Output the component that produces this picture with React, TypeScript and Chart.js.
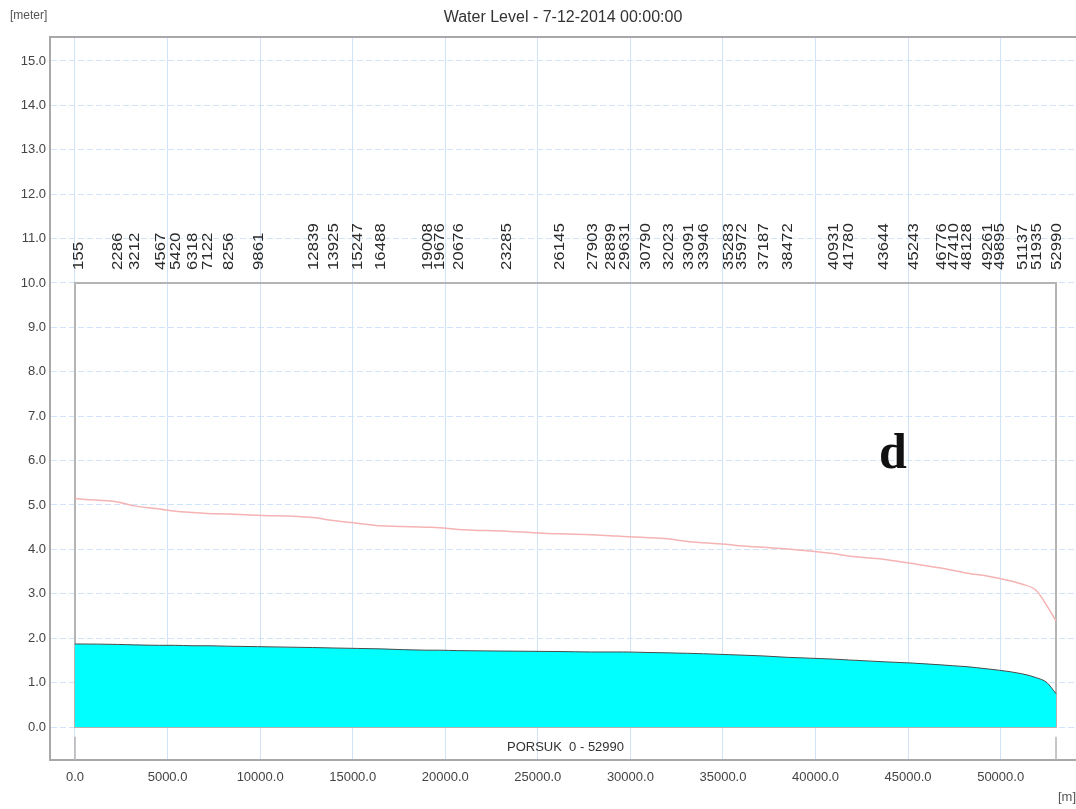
import React, { useEffect, useRef } from "react";
import { Chart, registerables } from "chart.js";

Chart.register(...registerables);

// Profile chainages (m) along PORSUK 0 - 52990
const chainage = [
  0, 155, 2286, 3212, 4567, 5420, 6318, 7122, 8256, 9861, 12839, 13925, 15247, 16488,
  19008, 19676, 20676, 23285, 26145, 27903, 28899, 29631, 30790, 32023, 33091, 33946,
  35283, 35972, 37187, 38472, 40931, 41780, 43644, 45243, 46776, 47410, 48128, 49261,
  49895, 51137, 51935, 52500, 52990,
];

// Cyan filled profile (m)
const depthLevel = [
  1.87, 1.87, 1.86, 1.85, 1.84, 1.84, 1.83, 1.83, 1.82, 1.81, 1.79, 1.78, 1.77, 1.76,
  1.73, 1.73, 1.72, 1.71, 1.70, 1.69, 1.69, 1.69, 1.68, 1.67, 1.66, 1.65,
  1.63, 1.62, 1.60, 1.57, 1.53, 1.51, 1.47, 1.44, 1.40, 1.38, 1.36, 1.31,
  1.28, 1.20, 1.11, 1.00, 0.75,
];

// Pink water level line (m)
const waterLevel = [
  5.15, 5.14, 5.07, 4.98, 4.91, 4.86, 4.83, 4.81, 4.80, 4.77, 4.72, 4.65, 4.59, 4.53,
  4.50, 4.49, 4.45, 4.41, 4.35, 4.33, 4.31, 4.29, 4.27, 4.24, 4.18, 4.15,
  4.11, 4.08, 4.05, 4.01, 3.91, 3.85, 3.78, 3.68, 3.58, 3.53, 3.47, 3.40,
  3.35, 3.22, 3.07, 2.73, 2.39,
];

// Station labels drawn vertically above the box
const stationLabels = [
  155, 2286, 3212, 4567, 5420, 6318, 7122, 8256, 9861, 12839, 13925, 15247, 16488,
  19008, 19676, 20676, 23285, 26145, 27903, 28899, 29631, 30790, 32023, 33091, 33946,
  35283, 35972, 37187, 38472, 40931, 41780, 43644, 45243, 46776, 47410, 48128, 49261,
  49895, 51137, 51935, 52990,
];

const xTicks = [0, 5000, 10000, 15000, 20000, 25000, 30000, 35000, 40000, 45000, 50000];
const yTicks = [0, 1, 2, 3, 4, 5, 6, 7, 8, 9, 10, 11, 12, 13, 14, 15];

const branchStart = 0;
const branchEnd = 52990;
const boxTop = 10;

const chartTitle = "Water Level - 7-12-2014 00:00:00";
const yUnit = "[meter]";
const xUnit = "[m]";
const branchName = "PORSUK  0 - 52990";
const panelLetter = "d";

const SANS = "'Liberation Sans', Arial, sans-serif";

const decorPlugin = {
  id: "decor",
  beforeDatasetsDraw(chart: any) {
    const { ctx, scales, chartArea } = chart;
    const x = scales.x;
    const y = scales.y;
    const x0 = x.getPixelForValue(branchStart);
    const x1 = x.getPixelForValue(branchEnd);
    const yt = y.getPixelForValue(boxTop);
    const yb = y.getPixelForValue(0);
    ctx.save();
    ctx.strokeStyle = "#b4b4b4";
    ctx.lineWidth = 2;
    ctx.strokeRect(x0, yt, x1 - x0, yb - yt);
    // end markers below the box
    const ym = y.getPixelForValue(-0.22);
    ctx.lineWidth = 1.5;
    ctx.beginPath();
    ctx.moveTo(x0, ym);
    ctx.lineTo(x0, chartArea.bottom);
    ctx.moveTo(x1, ym);
    ctx.lineTo(x1, chartArea.bottom);
    ctx.stroke();
    ctx.restore();
  },
  afterDraw(chart: any) {
    const { ctx, scales, chartArea } = chart;
    const x = scales.x;
    const y = scales.y;
    ctx.save();
    // top frame line
    ctx.strokeStyle = "#a8a8a8";
    ctx.lineWidth = 2;
    ctx.beginPath();
    ctx.moveTo(chartArea.left, chartArea.top);
    ctx.lineTo(chartArea.right, chartArea.top);
    ctx.stroke();

    // title
    ctx.fillStyle = "#333";
    ctx.font = `16px ${SANS}`;
    ctx.textAlign = "center";
    ctx.textBaseline = "middle";
    ctx.fillText(chartTitle, (chartArea.left + chartArea.right) / 2, 18);

    // unit labels
    ctx.font = `12px ${SANS}`;
    ctx.fillStyle = "#555";
    ctx.textAlign = "left";
    ctx.fillText(yUnit, 10, 16);
    ctx.font = `13px ${SANS}`;
    ctx.fillText(xUnit, 1058, 797);

    // branch name
    ctx.fillStyle = "#333";
    ctx.font = `13px ${SANS}`;
    ctx.textAlign = "center";
    ctx.fillText(branchName, (x.getPixelForValue(branchStart) + x.getPixelForValue(branchEnd)) / 2, 747);

    // station labels (vertical)
    const yt = y.getPixelForValue(boxTop);
    ctx.font = `14px ${SANS}`;
    ctx.fillStyle = "#2a2a2a";
    ctx.textAlign = "left";
    ctx.textBaseline = "alphabetic";
    for (const s of stationLabels) {
      const px = x.getPixelForValue(s);
      ctx.save();
      ctx.translate(px, yt - 13);
      ctx.rotate(-Math.PI / 2);
      ctx.scale(1.2, 1);
      ctx.fillText(String(s), 0, 5);
      ctx.restore();
    }

    // panel letter
    ctx.fillStyle = "#111";
    ctx.font = `bold 50px 'Liberation Serif', 'Times New Roman', serif`;
    ctx.textAlign = "center";
    ctx.textBaseline = "alphabetic";
    ctx.fillText(panelLetter, 893, 468);
    ctx.restore();
  },
};

export default function App() {
  const canvasRef = useRef<HTMLCanvasElement | null>(null);

  useEffect(() => {
    const canvas = canvasRef.current;
    if (!canvas) return;
    const depthData = chainage.map((c, i) => ({ x: c, y: depthLevel[i] }));
    const levelData = chainage.map((c, i) => ({ x: c, y: waterLevel[i] }));

    const chart = new Chart(canvas, {
      type: "line",
      data: {
        datasets: [
          {
            label: "Water level",
            data: levelData,
            borderColor: "#f5b3b3",
            borderWidth: 1.5,
            pointRadius: 0,
            fill: false,
            cubicInterpolationMode: "monotone",
          },
          {
            label: "Depth",
            data: depthData,
            borderColor: "#4a4a4a",
            borderWidth: 1,
            backgroundColor: "#00ffff",
            pointRadius: 0,
            fill: "origin",
            cubicInterpolationMode: "monotone",
          },
        ],
      },
      options: {
        animation: false,
        responsive: false,
        devicePixelRatio: 1,
        layout: { padding: { top: 37, left: 0, right: 0, bottom: 0 } },
        plugins: {
          legend: { display: false },
          tooltip: { enabled: false },
          title: { display: false },
        },
        scales: {
          x: {
            type: "linear",
            min: -1350,
            max: 54070,
            afterBuildTicks: (s: any) => {
              s.ticks = xTicks.map((v) => ({ value: v }));
            },
            afterFit: (s: any) => {
              s.height = 49;
            },
            grid: { color: "#d0e3f9", lineWidth: 1, drawTicks: false },
            border: { display: true, color: "#a8a8a8", width: 2 },
            ticks: {
              padding: 10,
              color: "#444",
              font: { family: SANS, size: 13 },
              maxRotation: 0,
              autoSkip: false,
              callback: (v: any) => Number(v).toFixed(1),
            },
          },
          y: {
            type: "linear",
            min: -0.743,
            max: 15.54,
            afterBuildTicks: (s: any) => {
              s.ticks = yTicks.map((v) => ({ value: v }));
            },
            afterFit: (s: any) => {
              s.width = 50;
            },
            grid: { color: "#d0e3f9", lineWidth: 1, drawTicks: false },
            border: { display: true, color: "#a8a8a8", width: 2, dash: [6, 3] },
            ticks: {
              padding: 4,
              color: "#444",
              font: { family: SANS, size: 13 },
              autoSkip: false,
              callback: (v: any) => Number(v).toFixed(1),
            },
          },
        },
      },
      plugins: [decorPlugin],
    } as any);

    return () => chart.destroy();
  }, []);

  return (
    <div style={{ position: "absolute", left: 0, top: 0, width: 1076, height: 809, background: "#fff" }}>
      <canvas ref={canvasRef} width={1076} height={809} style={{ display: "block" }} />
    </div>
  );
}
